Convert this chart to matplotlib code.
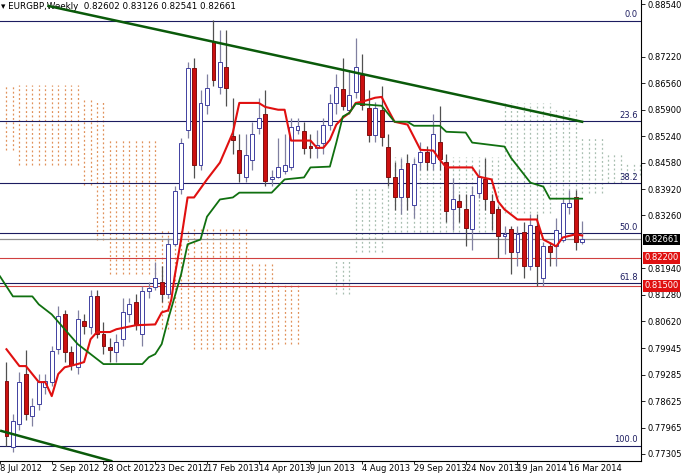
import matplotlib
matplotlib.use("Agg")
import matplotlib.pyplot as plt
import numpy as np

title = "EURGBP,Weekly  0.82602 0.83126 0.82541 0.82661"
opens = [0.7912,0.7748,0.7805,0.7930,0.7825,0.7855,0.7897,0.7910,0.7992,0.8079,
         0.7985,0.7947,0.8062,0.8047,0.8124,0.8030,0.7997,0.7985,0.8017,0.8079,
         0.8109,0.8030,0.8137,0.8147,0.8159,0.8129,0.8254,0.8391,0.8540,0.8695,
         0.8453,0.8602,0.8759,0.8647,0.8697,0.8525,0.8490,0.8423,0.8465,0.8545,
         0.8580,0.8416,0.8421,0.8438,0.8448,0.8540,0.8538,0.8500,0.8495,0.8508,
         0.8553,0.8607,0.8642,0.8590,0.8635,0.8677,0.8595,0.8528,0.8590,0.8498,
         0.8423,0.8373,0.8458,0.8351,0.8460,0.8485,0.8458,0.8510,0.8460,0.8341,
         0.8361,0.8343,0.8291,0.8383,0.8418,0.8361,0.8341,0.8276,0.8291,0.8236,
         0.8284,0.8199,0.8299,0.8171,0.8251,0.8249,0.8266,0.8348,0.8373,0.82602]
closes = [0.7775,0.7813,0.7910,0.7830,0.7850,0.7910,0.7912,0.7987,0.8074,0.7985,
          0.7952,0.8067,0.8049,0.8124,0.8030,0.8000,0.7990,0.8010,0.8084,0.8104,
          0.8054,0.8137,0.8144,0.8171,0.8129,0.8254,0.8386,0.8508,0.8695,0.8453,
          0.8607,0.8645,0.8665,0.8710,0.8645,0.8515,0.8431,0.8478,0.8530,0.8570,
          0.8411,0.8423,0.8448,0.8453,0.8548,0.8550,0.8495,0.8495,0.8503,0.8553,
          0.8607,0.8647,0.8600,0.8627,0.8697,0.8602,0.8528,0.8595,0.8523,0.8423,
          0.8373,0.8441,0.8371,0.8455,0.8485,0.8460,0.8530,0.8468,0.8336,0.8366,
          0.8348,0.8294,0.8378,0.8423,0.8366,0.8333,0.8274,0.8281,0.8236,0.8281,
          0.8199,0.8301,0.8199,0.8251,0.8236,0.8289,0.8356,0.8358,0.8259,0.82661]
highs = [0.7960,0.7830,0.7935,0.7990,0.7870,0.7930,0.7930,0.8000,0.8100,0.8090,
         0.8000,0.8090,0.8080,0.8140,0.8140,0.8060,0.8020,0.8030,0.8120,0.8120,
         0.8130,0.8150,0.8160,0.8210,0.8200,0.8270,0.8400,0.8520,0.8710,0.8720,
         0.8640,0.8680,0.8814,0.8790,0.8789,0.8620,0.8530,0.8530,0.8560,0.8620,
         0.8640,0.8440,0.8520,0.8530,0.8570,0.8570,0.8560,0.8530,0.8540,0.8570,
         0.8630,0.8680,0.8720,0.8690,0.8770,0.8730,0.8640,0.8610,0.8650,0.8530,
         0.8460,0.8470,0.8480,0.8470,0.8510,0.8500,0.8580,0.8600,0.8480,0.8420,
         0.8380,0.8380,0.8400,0.8440,0.8470,0.8380,0.8350,0.8300,0.8300,0.8300,
         0.8310,0.8330,0.8330,0.8260,0.8260,0.8320,0.8370,0.8390,0.8390,0.83126]
lows = [0.7750,0.7735,0.7790,0.7815,0.7800,0.7840,0.7880,0.7900,0.7980,0.7960,
        0.7940,0.7930,0.8030,0.8030,0.8020,0.7980,0.7960,0.7960,0.8000,0.8060,
        0.8040,0.8000,0.8120,0.8140,0.8110,0.8120,0.8250,0.8380,0.8520,0.8420,
        0.8440,0.8580,0.8650,0.8630,0.8600,0.8480,0.8410,0.8410,0.8440,0.8530,
        0.8400,0.8400,0.8420,0.8430,0.8440,0.8530,0.8480,0.8470,0.8470,0.8480,
        0.8540,0.8580,0.8590,0.8580,0.8620,0.8590,0.8510,0.8510,0.8500,0.8400,
        0.8340,0.8330,0.8340,0.8320,0.8440,0.8440,0.8440,0.8440,0.8310,0.8290,
        0.8310,0.8250,0.8240,0.8370,0.8340,0.8290,0.8220,0.8230,0.8180,0.8200,
        0.8170,0.8190,0.8150,0.8150,0.8200,0.8200,0.8260,0.8330,0.8240,0.82541]

tenkan_idx = [0,2,3,5,6,7,8,9,11,12,13,14,16,17,20,23,24,25,25.5,26,27,28,29,31,33,35,36,39,40,42,43,44,47,48,49,50,51,52,53,54,55,57,58,59,60,62,64,66,67,68,72,73,75,76,77,79,82,83,85,86,88,89]
tenkan_val = [0.7992,0.7950,0.7950,0.7910,0.7910,0.7875,0.7930,0.7947,0.7955,0.7960,0.8017,0.8035,0.8035,0.8042,0.8052,0.8054,0.8084,0.8089,0.8117,0.8174,0.8266,0.8371,0.8371,0.8416,0.8458,0.8533,0.8607,0.8607,0.8597,0.8590,0.8590,0.8513,0.8513,0.8495,0.8495,0.8515,0.8553,0.8570,0.8582,0.8607,0.8610,0.8620,0.8622,0.8590,0.8560,0.8553,0.8490,0.8488,0.8465,0.8446,0.8446,0.8423,0.8416,0.8361,0.8341,0.8316,0.8316,0.8266,0.8249,0.8271,0.8279,0.8276]
kijun_idx = [-1,1,4,5,7,9,11,13,15,21,22,23,24,25,27,28,30,31,33,35,36,41,43,46,47,50,51,52,53,54,58,60,62,63,67,68,71,72,77,78,81,83,84,89]
kijun_val = [0.8174,0.8124,0.8124,0.8104,0.8079,0.8042,0.8005,0.7980,0.7955,0.7955,0.7972,0.7980,0.8005,0.8067,0.8179,0.8254,0.8266,0.8323,0.8366,0.8371,0.8383,0.8383,0.8416,0.8421,0.8446,0.8448,0.8508,0.8573,0.8582,0.8605,0.8600,0.8560,0.8560,0.8550,0.8550,0.8535,0.8533,0.8508,0.8498,0.8470,0.8408,0.8398,0.8368,0.8368]

# cloud segments: (first index, last index, top, bottom, bearish?)
cloud_first = [0,2,12,14,16,24,29,38,42,51,54,59,77,85,89,93,96]
cloud_last  = [1,11,13,15,23,28,37,41,45,53,58,76,84,88,92,95,98]
cloud_top   = [0.8652,0.8652,0.8615,0.8615,0.8515,0.8291,0.8291,0.8204,0.8154,0.8216,0.8398,0.8473,0.8607,0.8590,0.8523,0.8483,0.8460]
cloud_bot   = [0.8490,0.8453,0.8403,0.8266,0.8179,0.8042,0.7992,0.7992,0.8005,0.8129,0.8234,0.8284,0.8333,0.8366,0.8383,0.8408,0.8428]
cloud_bear  = [1,1,1,1,1,1,1,1,1,0,0,0,0,0,0,0,0]

fib_pct = ["0.0","23.6","38.2","50.0","61.8","100.0"]
fib_high, fib_low = 0.8812, 0.7751
fib_ratio = [0.0,0.236,0.382,0.5,0.618,1.0]
red_levels = [0.8220, 0.8150]
last_price = 0.82661
upper_tl = ([6.5, 89], [0.8849, 0.8560])
lower_tl = ([-0.8, 16.2], [0.7788, 0.7713])

yticks = [0.88540,0.87220,0.86560,0.85900,0.85240,0.84580,0.83920,0.83260,0.81940,0.81280,0.80620,0.79945,0.79285,0.78625,0.77965,0.77305]
date_labels = ['8 Jul 2012','2 Sep 2012','28 Oct 2012','23 Dec 2012','17 Feb 2013','14 Apr 2013','9 Jun 2013','4 Aug 2013','29 Sep 2013','24 Nov 2013','19 Jan 2014','16 Mar 2014']

fig = plt.figure(figsize=(6.93,4.73), dpi=100)
ax = fig.add_axes([0.0, 12/473, 641/693, 461/473])
ax.set_xlim(-0.77, 98.1)
ax.set_ylim(0.7713, 0.8864)

for f, l, t, b, bear in zip(cloud_first, cloud_last, cloud_top, cloud_bot, cloud_bear):
    col = '#e0915a' if bear else '#a8bfb0'
    for i in range(f, l+1):
        ax.vlines(i, b, t, colors=col, linestyles=(0,(1.5,2)), lw=0.9, zorder=1)

for r, lab in zip(fib_ratio, fib_pct):
    lv = fib_high - r*(fib_high-fib_low)
    ax.axhline(lv, color='#1c1c60', lw=0.8, zorder=2)
    ax.text(97.6, lv+0.0004, lab, ha='right', va='bottom', fontsize=6, color='#1c1c60')
for lv in red_levels:
    ax.axhline(lv, color='#d04040', lw=0.8, zorder=2)
ax.axhline(last_price, color='#909090', lw=0.9, zorder=2)

for i,(o,h,l,c) in enumerate(zip(opens,highs,lows,closes)):
    bull = c >= o
    ax.vlines(i, l, h, colors='#8080a0' if bull else '#505050', lw=0.9, zorder=3)
    ax.bar(i, abs(c-o) if abs(c-o)>0.0002 else 0.0002, bottom=min(o,c), width=0.6,
           color='white' if bull else '#cc1010', edgecolor='#4040a0' if bull else '#801010',
           lw=0.7, zorder=4)

ax.plot(tenkan_idx, tenkan_val, color='#e01010', lw=1.5, zorder=5)
ax.plot(kijun_idx, kijun_val, color='#107010', lw=1.3, zorder=5)
ax.plot(*upper_tl, color='#0a5a0a', lw=1.8, zorder=6)
ax.plot(*lower_tl, color='#0a5a0a', lw=1.8, zorder=6)

ax.yaxis.tick_right()
ax.set_yticks(yticks)
ax.set_yticklabels([f"{v:.5f}" for v in yticks], fontsize=6)
ax.set_xticks([-1+8*k for k in range(len(date_labels))])
ax.set_xticklabels(date_labels, fontsize=6, ha='left')
ax.tick_params(axis='x', length=2, width=0.6, pad=0.5)
ax.tick_params(axis='y', length=3, width=0.6, pad=1.5)
for s in ['top','left']:
    ax.spines[s].set_visible(False)

def box(v, txt, fc, tc):
    ax.text(1.005, v, txt, transform=ax.get_yaxis_transform(), fontsize=6, va='center', ha='left',
            color=tc, bbox=dict(boxstyle='square,pad=0.15', fc=fc, ec='none'), zorder=10)
box(last_price, f"{last_price:.5f}", 'black', 'white')
for lv in red_levels:
    box(lv, f"{lv:.5f}", '#e01010', 'white')

ax.text(0.002, 0.995, "\u25be " + title, transform=ax.transAxes, fontsize=6.3, va='top', ha='left')
fig.savefig("out.png", dpi=100)
